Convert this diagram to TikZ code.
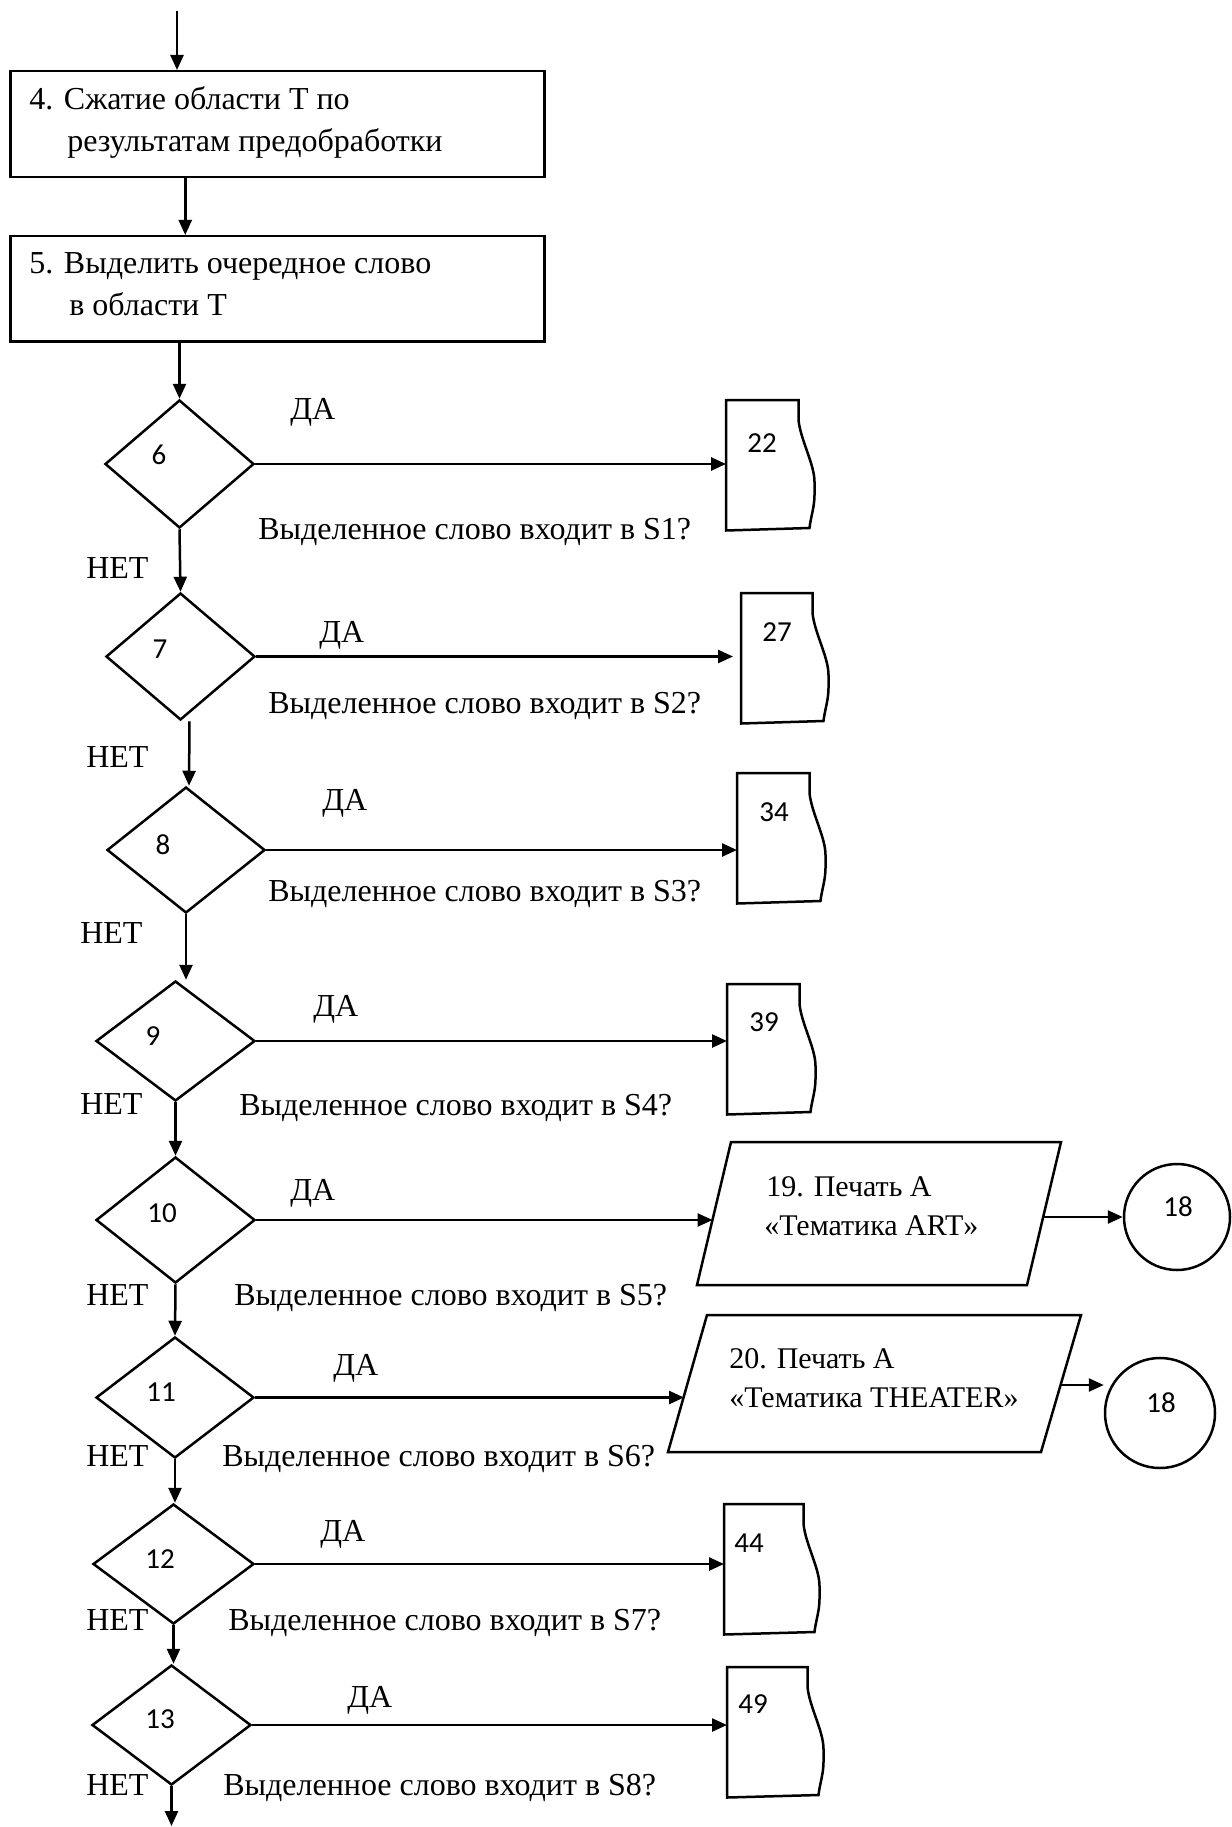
\documentclass[tikz,border=0pt]{standalone}
\usepackage{fontspec}
\setmainfont{Liberation Serif}
\newfontfamily\numfont{Carlito}
\usetikzlibrary{arrows.meta,shapes.geometric,calc}
\newcommand\docbox[4]{%
  \node[hid,minimum width=#4pt] (#1) at (#2,#3) {};
  \draw (#1.north west) -- (#1.north east) -- ++(0,20)
    .. controls +(2,20) and +(0,-18) .. ++(16,62) -- ++(0,13)
    .. controls +(0,12) and +(1,-10) .. ++(-5,33) -- (#1.south west) -- cycle;}
\begin{document}
\begin{tikzpicture}[x=1pt,y=-1pt,line width=2.5pt,
  arr/.style={-{Triangle[length=15pt,width=13pt]}},
  txt/.style={anchor=base west,inner sep=0,font=\fontsize{32}{38}\selectfont},
  ptxt/.style={anchor=base west,inner sep=0,font=\fontsize{30}{36}\selectfont},
  num/.style={inner sep=0,font=\numfont\fontsize{29}{34}\selectfont},
  dia/.style={draw,diamond,inner sep=0},
  blk/.style={draw,rectangle,inner sep=0,anchor=north west,minimum width=534pt},
  ring/.style={draw,circle,inner sep=0},
  hid/.style={inner sep=0,anchor=north west,minimum height=128pt}]
\useasboundingbox (0,0) rectangle (1231,1827);

% top boxes
\coordinate (start) at (177,11);
\node[blk,minimum height=106pt] (b4) at (9,70) {};
\node[blk,minimum height=105pt] (b5) at (9,235) {};
\node[txt] (t4a) at (28,110) {4. Сжатие области Т по};
\node[txt] (t4b) at (66,152) {результатам предобработки};
\node[txt] (t5a) at (28,273) {5. Выделить очередное слово};
\node[txt] (t5b) at (68,315) {в области Т};

% diamonds
\node[dia,minimum width=149pt,minimum height=128pt] (d6) at (179.5,464) {};
\node[dia,minimum width=149pt,minimum height=127pt] (d7) at (180.5,656.5) {};
\node[dia,minimum width=158pt,minimum height=126pt] (d8) at (186,850) {};
\node[dia,minimum width=159pt,minimum height=120pt] (d9) at (175.5,1041) {};
\node[dia,minimum width=159pt,minimum height=126pt] (d10) at (175.5,1220) {};
\node[dia,minimum width=158pt,minimum height=121pt] (d11) at (175,1397.5) {};
\node[dia,minimum width=161pt,minimum height=120pt] (d12) at (173.5,1564) {};
\node[dia,minimum width=159pt,minimum height=120pt] (d13) at (171.5,1725) {};
\node[num] (n6) at (159,455) {6};
\node[num] (n7) at (160,649) {7};
\node[num] (n8) at (163,845) {8};
\node[num] (n9) at (153,1036) {9};
\node[num] (n10) at (162,1213) {10};
\node[num] (n11) at (161,1392) {11};
\node[num] (n12) at (160,1559) {12};
\node[num] (n13) at (160,1719) {13};

% document boxes
\docbox{k22}{726}{400}{70}
\docbox{k27}{741}{593}{69}
\docbox{k34}{737}{773}{70}
\docbox{k39}{727}{984}{70}
\docbox{k44}{724}{1504}{77}
\docbox{k49}{727}{1667}{78}
\node[num] (m22) at (762,443) {22};
\node[num] (m27) at (777,632) {27};
\node[num] (m34) at (774,812) {34};
\node[num] (m39) at (764,1022) {39};
\node[num] (m44) at (749,1543) {44};
\node[num] (m49) at (753,1704) {49};

% parallelograms
\coordinate (p19a) at (731,1142); \coordinate (p19b) at (1061,1142);
\coordinate (p19c) at (1027,1285); \coordinate (p19d) at (697,1285);
\coordinate (p19in) at (712.5,1220); \coordinate (p19out) at (1042.5,1217);
\draw (p19a) -- (p19b) -- (p19c) -- (p19d) -- cycle;
\coordinate (p20a) at (707,1315); \coordinate (p20b) at (1081,1315);
\coordinate (p20c) at (1041,1452); \coordinate (p20d) at (668,1452);
\coordinate (p20in) at (684,1397.5); \coordinate (p20out) at (1060.5,1385);
\draw (p20a) -- (p20b) -- (p20c) -- (p20d) -- cycle;
\node[ptxt] (t19a) at (765,1196) {19. Печать А};
\node[ptxt] (t19b) at (763,1235) {«Тематика ART»};
\node[ptxt] (t20a) at (728,1368) {20. Печать А};
\node[ptxt] (t20b) at (728,1407) {«Тематика THEATER»};

% circles
\node[ring,minimum size=106pt] (c1) at (1177,1217) {};
\node[ring,minimum size=110pt] (c2) at (1160,1413) {};
\node[num] (r1) at (1178,1207) {18};
\node[num] (r2) at (1161,1403) {18};

% labels
\node[txt] (y6) at (289,419) {ДА};
\node[txt] (q6) at (257,539) {Выделенное слово входит в S1?};
\node[txt] (x6) at (85,578) {НЕТ};
\node[txt] (y7) at (318,642) {ДА};
\node[txt] (q7) at (267,713) {Выделенное слово входит в S2?};
\node[txt] (x7) at (85,767) {НЕТ};
\node[txt] (y8) at (321,810) {ДА};
\node[txt] (q8) at (267,901) {Выделенное слово входит в S3?};
\node[txt] (x8) at (79,943) {НЕТ};
\node[txt] (y9) at (312,1016) {ДА};
\node[txt] (q9) at (238,1115) {Выделенное слово входит в S4?};
\node[txt] (x9) at (79,1114) {НЕТ};
\node[txt] (y10) at (289,1200) {ДА};
\node[txt] (q10) at (233,1305) {Выделенное слово входит в S5?};
\node[txt] (x10) at (85,1305) {НЕТ};
\node[txt] (y11) at (332,1375) {ДА};
\node[txt] (q11) at (221,1466) {Выделенное слово входит в S6?};
\node[txt] (x11) at (85,1466) {НЕТ};
\node[txt] (y12) at (319,1541) {ДА};
\node[txt] (q12) at (227,1630) {Выделенное слово входит в S7?};
\node[txt] (x12) at (85,1630) {НЕТ};
\node[txt] (y13) at (346,1707) {ДА};
\node[txt] (q13) at (222,1795) {Выделенное слово входит в S8?};
\node[txt] (x13) at (85,1795) {НЕТ};

% vertical connectors
\draw[arr] (start) -- (start |- b4.north);
\draw[arr] ([xshift=-92pt]b4.south) -- ([xshift=-92pt]b5.north);
\draw[arr] (d6.north |- b5.south) -- (d6.north);
\draw[arr] (d6.south) -- (d7.north);
\draw[arr] ([xshift=9pt]d7.south) -- ([xshift=3pt]d8.north);
\draw[arr] (d8.south) -- (d8.south |- d9.north);
\draw[arr] (d9.south) -- (d10.north);
\draw[arr] (d10.south) -- (d11.north);
\draw[arr] (d11.south) -- (d11.south |- d12.north);
\draw[arr] (d12.south) -- (d12.south |- d13.north);
\coordinate (fin) at (172,1826);
\draw[arr] (d13.south) -- (d13.south |- fin);

% horizontal connectors
\draw[arr] (d6.east) -- (d6.east -| k22.west);
\draw[arr] (d7.east) -- ($(d7.east -| k27.west)+(-8,0)$);
\draw[arr] (d8.east) -- (d8.east -| k34.west);
\draw[arr] (d9.east) -- (d9.east -| k39.west);
\draw[arr] (d10.east) -- (p19in);
\draw[arr] (d11.east) -- (p20in);
\draw[arr] (d12.east) -- (d12.east -| k44.west);
\draw[arr] (d13.east) -- (d13.east -| k49.west);
\draw[arr] (p19out) -- (c1.west);
\draw[arr] (p20out) -- ($(c2.west)+(0,-28)$);
\end{tikzpicture}
\end{document}
